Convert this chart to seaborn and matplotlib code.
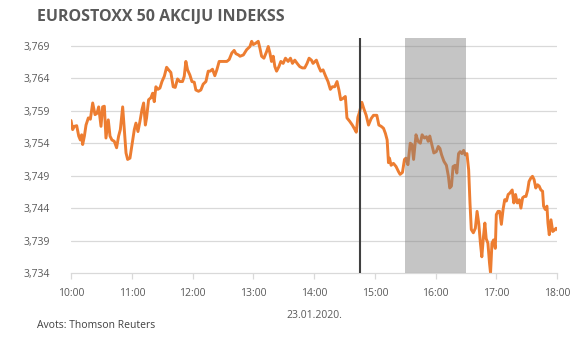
import matplotlib
matplotlib.use("Agg")
import matplotlib.pyplot as plt
import seaborn as sns
import pandas as pd

# minutes after 10:00 and index value
minutes = [0, 1.6, 3.3, 5.6, 7.6, 9.2, 10.5, 11.5, 13.2, 14.8, 17.1, 19.1, 21.4, 23.7, 25.6, 27.3,
           29.6, 31.2, 32.9, 34.5, 36.8, 38.5, 40.4, 42.7, 45.0, 47.0, 48.7, 51.0, 52.6, 54.3, 55.9,
           58.2, 60.2, 62.5, 64.1, 66.1, 68.1, 70.1, 71.7, 73.4, 74.6, 76.6, 78.9, 80.6, 82.2, 83.8,
           85.8, 87.8, 89.8, 92.1, 94.4, 96.4, 98.6, 100.9, 102.9, 105.2, 107.5, 110.1, 111.8, 113.4,
           115.1, 117.4, 119.4, 121.7, 123.3, 125.9, 128.2, 130.5, 133.2, 135.5, 137.4, 139.7, 142.0,
           144.0, 146.3, 148.6, 151.2, 153.9, 156.2, 158.8, 161.1, 162.8, 165.4,
           166.9, 170.2, 173.4, 176.7, 178.4, 180, 182.3, 184.9, 186.6, 188.2, 190.5, 193.1, 194.8,
           196.4, 198.0, 199.7, 201.3, 203.0, 205.3, 207.2, 209.5, 211.8, 214.4, 216.7, 218.7, 221.0,
           223.3, 225.9, 228.5, 230.8, 233.1, 235.1, 237.4, 239.0, 242.3, 244.6, 246.6, 248.9, 251.5,
           253.8, 256.1, 258.1, 260.4, 262.7, 264.6, 266.3, 268.6, 270.9, 272.5, 275.1, 277.8, 280.0,
           281.7, 283.3, 284.9, 287.2, 289.2, 291.5, 293.8, 296.4, 298.7, 302.0, 304.0, 306.3, 308.6,
           310.5, 312.2, 313.5, 314.5, 316.1, 318.4, 321.0, 323.5,
           325, 327.3, 329.3, 330.7, 332.7, 335, 336.7, 338.3, 340.7, 342.7, 345, 346.7, 349, 351,
           352.7, 354.3, 356, 358.3, 360.7, 362.7, 364.3, 366, 368.3, 370.7, 372.7, 374, 375.7, 377.3,
           379.3, 381, 382.7, 384.3, 386, 387.7, 389.3, 391, 392.7, 394, 395.3, 397.3, 399.3, 401,
           402.7, 404.3, 405.7, 407.3, 408.7, 410, 411.7, 413.3, 414.3, 415.7, 417.3, 419, 420, 421.7,
           423.3, 425, 426.7, 428.3, 430, 431.7, 433.3, 435.7, 437.3, 439, 440.7, 442.7, 444.3, 446,
           447.7, 449.3, 451, 452.3, 454, 455.7, 457.3, 459, 460.7, 462.3, 464, 465.7, 466.7, 468.3,
           470, 471, 472.3, 474, 475.7, 477.3, 479, 480.7]
values = [3757.5, 3756.1, 3756.6, 3756.7, 3755.1, 3754.5, 3755.3, 3753.8, 3755.1, 3756.8, 3757.9,
          3757.7, 3760.2, 3758.4, 3758.6, 3759.6, 3756.6, 3759.6, 3759.7, 3754.8, 3757.6, 3755.1,
          3754.5, 3754.3, 3753.3, 3755.1, 3756.1, 3759.6, 3756.1, 3752.5, 3751.5, 3751.7, 3753.8,
          3756.1, 3757.1, 3755.8, 3757.4, 3759.2, 3760.2, 3756.8, 3757.9, 3760.7, 3761.0, 3761.7,
          3760.4, 3762.7, 3762.3, 3762.5, 3763.5, 3764.3, 3765.7, 3765.3, 3764.9, 3762.7, 3762.6,
          3763.9, 3763.5, 3763.5, 3764.3, 3766.6, 3765.3, 3764.5, 3763.5, 3763.4, 3762.2, 3762.0,
          3762.2, 3763.1, 3763.5, 3765.1, 3765.1, 3765.4, 3764.4, 3765.3, 3766.6, 3766.6, 3766.6,
          3766.6, 3766.9, 3767.9, 3768.3, 3767.8, 3767.6,
          3767.4, 3767.6, 3768.4, 3768.9, 3769.7, 3769.2, 3769.4, 3769.7, 3768.6, 3767.4, 3767.1,
          3768.1, 3768.9, 3767.9, 3766.6, 3767.4, 3765.8, 3765.1, 3765.8, 3766.6, 3766.3, 3767.1,
          3766.6, 3767.1, 3766.3, 3766.8, 3766.3, 3765.8, 3765.6, 3765.6, 3766.3, 3767.1, 3766.8,
          3766.3, 3766.8, 3765.8, 3765.1, 3765.3, 3764.3, 3763.5, 3762.3, 3762.7, 3762.7, 3763.5,
          3762.2, 3760.7, 3760.9, 3761.2, 3757.9, 3757.4, 3756.8, 3756.2, 3755.7, 3758.0, 3758.8,
          3760.3, 3759.3, 3758.3, 3756.8, 3757.8, 3758.3, 3758.3, 3756.8, 3756.6, 3756.3, 3755.5,
          3754.5, 3751.0, 3751.7, 3750.6, 3750.9, 3750.4, 3749.6,
          3749.2, 3749.5, 3751.5, 3751.7, 3750.7, 3754.0, 3753.8, 3751.5, 3755.3, 3754.3, 3754.0,
          3755.3, 3754.8, 3755.0, 3754.3, 3755.1, 3754.0, 3752.5, 3752.7, 3753.5, 3753.2, 3752.2,
          3751.2, 3750.6, 3748.9, 3747.1, 3747.4, 3750.4, 3750.6, 3749.4, 3752.4, 3752.7, 3752.4,
          3752.9, 3752.2, 3752.4, 3749.9, 3744.8, 3740.7, 3740.2, 3740.9, 3743.5, 3741.6, 3738.6,
          3736.5, 3739.6, 3741.7, 3739.3, 3738.6, 3735.5, 3734.0, 3738.6, 3739.1, 3737.8, 3743.0,
          3743.5, 3743.5, 3741.5, 3743.8, 3745.3, 3745.1, 3746.1, 3746.3, 3746.8, 3744.8, 3746.1,
          3744.8, 3745.3, 3744.0, 3745.6, 3745.8, 3745.8, 3746.8, 3748.1, 3748.6, 3748.9, 3748.4,
          3747.1, 3747.6, 3747.4, 3746.8, 3746.6, 3744.3, 3743.8, 3744.3, 3741.7, 3739.9, 3742.2,
          3740.4, 3740.6, 3740.9, 3740.6]

x_tick_labels = ["10:00", "11:00", "12:00", "13:00", "14:00", "15:00", "16:00", "17:00", "18:00"]
y_ticks = [3734, 3739, 3744, 3749, 3754, 3759, 3764, 3769]
event_minute = 285          # 14:45 vertical marker
band_minutes = [330, 390]   # 15:30 - 16:30 shaded period

title = "EUROSTOXX 50 AKCIJU INDEKSS"
xlabel = "23.01.2020."
source = "Avots: Thomson Reuters"

sns.set_theme(style="white")
plt.rcParams["font.family"] = ["Open Sans", "DejaVu Sans"]

df = pd.DataFrame({"minute": minutes, "value": values})

fig = plt.figure(figsize=(5.87, 3.43), dpi=100)
ax = fig.add_axes([0.121, 0.204, 0.828, 0.685])

for yv in y_ticks[1:]:
    ax.axhline(yv, color="#D9D9D9", lw=0.9, zorder=0)

sns.lineplot(data=df, x="minute", y="value", ax=ax, color="#ED7D31", lw=2.1, zorder=2)

ax.axvspan(band_minutes[0], band_minutes[1], color="#7F7F7F", alpha=0.45, lw=0, zorder=3)
ax.axvline(event_minute, color="#404040", lw=1.5, zorder=4)

ax.set_xlim(0, 480)
ax.set_ylim(3734, 3770.2)
ax.set_xticks([i * 60 for i in range(len(x_tick_labels))])
ax.set_xticklabels(x_tick_labels)
ax.set_yticks(y_ticks)
ax.set_yticklabels([f"{v // 1000},{v % 1000:03d}" for v in y_ticks])

for s in ["top", "right", "left"]:
    ax.spines[s].set_visible(False)
ax.spines["bottom"].set_color("#D9D9D9")
ax.spines["bottom"].set_linewidth(0.9)
ax.tick_params(axis="x", bottom=True, length=4, color="#D9D9D9", width=0.9,
               labelsize=7.5, labelcolor="#595959", pad=6.5)
ax.tick_params(axis="y", left=False, labelsize=7.5, labelcolor="#595959", pad=9)

ax.set_xlabel(xlabel, fontsize=7.5, color="#595959", labelpad=8)
ax.set_ylabel("")

fig.text(37 / 587, 1 - 17 / 343, title, fontsize=11.5, fontweight="bold", color="#595959",
         ha="left", va="center")
fig.text(37 / 587, 1 - 325 / 343, source, fontsize=7.5, color="#404040", ha="left", va="center")

fig.savefig("out.png", dpi=100)
